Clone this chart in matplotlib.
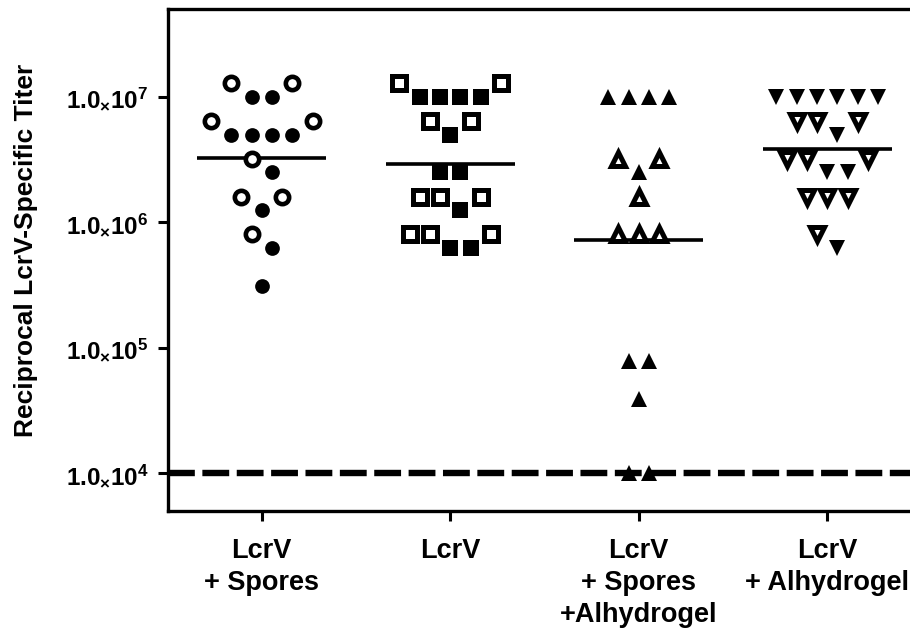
import numpy as np
import matplotlib
matplotlib.use("Agg")
import matplotlib.pyplot as plt
from matplotlib.ticker import FixedLocator, NullLocator

plt.rcParams["font.family"] = ["Liberation Sans", "DejaVu Sans"]
plt.rcParams["font.weight"] = "bold"
plt.rcParams["mathtext.fontset"] = "custom"
plt.rcParams["mathtext.rm"] = "Liberation Sans:bold"
plt.rcParams["mathtext.bf"] = "Liberation Sans:bold"
plt.rcParams["mathtext.it"] = "Liberation Sans:bold"
plt.rcParams["mathtext.sf"] = "Liberation Sans:bold"

# ---- data -------------------------------------------------------------
groups = ["LcrV\n+ Spores", "LcrV", "LcrV\n+ Spores\n+Alhydrogel", "LcrV\n+ Alhydrogel"]

spores_open = [1.28e7, 1.28e7, 6.4e6, 6.4e6, 3.2e6, 1.6e6, 1.6e6, 8e5]
spores_filled = [1e7, 1e7, 5e6, 5e6, 5e6, 5e6, 2.5e6, 1.25e6, 6.25e5, 3.125e5]

lcrv_open = [1.28e7, 1.28e7, 6.4e6, 6.4e6, 1.6e6, 1.6e6, 1.6e6, 8e5, 8e5, 8e5]
lcrv_filled = [1e7, 1e7, 1e7, 1e7, 5e6, 2.5e6, 2.5e6, 1.25e6, 6.25e5, 6.25e5]

both_open = [3.2e6, 3.2e6, 1.6e6, 8e5, 8e5, 8e5]
both_filled = [1e7, 1e7, 1e7, 1e7, 2.5e6, 7.8125e4, 7.8125e4, 3.90625e4, 1e4, 1e4]

alhy_open = [6.4e6, 6.4e6, 6.4e6, 3.2e6, 3.2e6, 3.2e6, 1.6e6, 1.6e6, 1.6e6, 8e5]
alhy_filled = [1e7, 1e7, 1e7, 1e7, 1e7, 1e7, 5e6, 2.5e6, 2.5e6, 6.25e5]

detection_limit = 1e4
ytick_values = [1e4, 1e5, 1e6, 1e7]

open_sets = [spores_open, lcrv_open, both_open, alhy_open]
filled_sets = [spores_filled, lcrv_filled, both_filled, alhy_filled]
shapes = ["o", "s", "^", "v"]


def spread(open_v, filled_v, gap=0.15):
    """Column-scatter layout: points close in log value share a row and
    are spread evenly left/right; open symbols flank the filled ones."""
    pts = sorted([(v, True) for v in open_v] + [(v, False) for v in filled_v],
                 key=lambda p: -p[0])
    rows, cur = [], [pts[0]]
    for p in pts[1:]:
        if np.log10(cur[-1][0]) - np.log10(p[0]) <= gap:
            cur.append(p)
        else:
            rows.append(cur)
            cur = [p]
    rows.append(cur)
    out = []
    for r in rows:
        o = [p for p in r if p[1]]
        f = [p for p in r if not p[1]]
        k = (len(o) + 1) // 2
        seq = o[:k] + f + o[k:]
        n = len(seq)
        for i, (v, is_open) in enumerate(seq):
            out.append((i - (n - 1) / 2, v, is_open))
    return out


# ---- figure -----------------------------------------------------------
fig = plt.figure(figsize=(9.10, 6.31), dpi=100)
ax = fig.add_axes([167.5 / 910, 1 - 511 / 631, 754 / 910, 502 / 631])

step = 0.1077
positions = np.arange(1, len(groups) + 1)

style = {
    "o": dict(open=dict(ms=9.6, mew=3.3), filled=dict(ms=10.6)),
    "s": dict(open=dict(ms=9.4, mew=3.6), filled=dict(ms=12.0)),
    "^": dict(open=dict(ms=9.6, mew=3.6), filled=dict(ms=11.0)),
    "v": dict(open=dict(ms=9.6, mew=3.6), filled=dict(ms=11.0)),
}

for pos, ov, fv, mk in zip(positions, open_sets, filled_sets, shapes):
    pts = spread(ov, fv)
    for off, v, is_open in pts:
        if is_open:
            st = style[mk]["open"]
            ax.plot(pos + off * step, v, marker=mk, linestyle="none",
                    ms=st["ms"], mew=st["mew"], mec="black", mfc="white",
                    zorder=4, clip_on=False)
        else:
            st = style[mk]["filled"]
            ax.plot(pos + off * step, v, marker=mk, linestyle="none",
                    ms=st["ms"], mew=0, mfc="black", zorder=3, clip_on=False)
    gmean = 10 ** np.mean(np.log10(np.array(ov + fv)))
    ax.plot([pos - 0.343, pos + 0.343], [gmean, gmean], color="black",
            lw=2.6, solid_capstyle="butt", zorder=3.5)

ax.axhline(detection_limit, color="black", lw=4.6,
           linestyle=(0, (4.2, 1.18)), dash_capstyle="butt", zorder=2)

ax.set_yscale("log")
ax.set_ylim(5e3, 5e7)
ax.set_xlim(0.5, 4.5)
ax.yaxis.set_major_locator(FixedLocator(ytick_values))
ax.yaxis.set_minor_locator(NullLocator())
ax.set_yticklabels([r"$1.0_{\times}10^{%d}$" % int(round(np.log10(v)))
                    for v in ytick_values])
ax.set_xticks(positions)
ax.set_xticklabels(groups, fontsize=19.5, fontweight="bold",
                   multialignment="center", linespacing=1.29)

for lab in ax.get_yticklabels():
    lab.set_fontsize(17.5)

ax.tick_params(axis="both", direction="out", length=7.5, width=2.2,
               color="black")
ax.tick_params(axis="y", pad=6)
ax.tick_params(axis="x", pad=12)

for side in ("left", "bottom", "top"):
    ax.spines[side].set_linewidth(2.4)
ax.spines["right"].set_visible(False)

fig.text(26 / 910, 1 - 250 / 631, "Reciprocal LcrV-Specific Titer",
         rotation=90, ha="center", va="center", fontsize=19,
         fontweight="bold")

fig.savefig("out.png", dpi=100)
